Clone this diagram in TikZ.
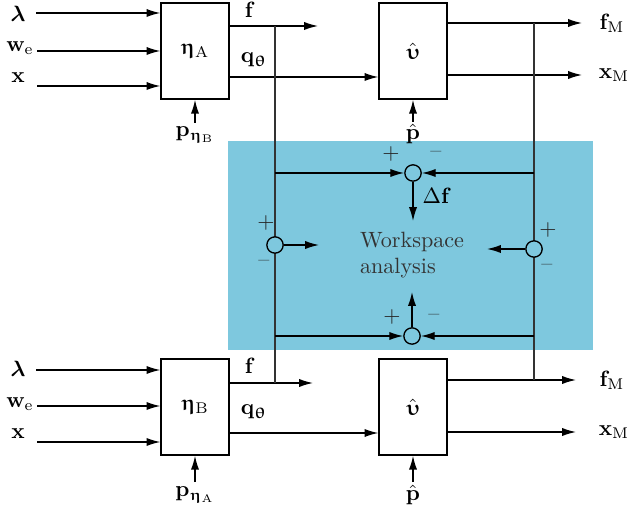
\documentclass[tikz,border=0pt]{standalone}
\usepackage{amsmath}
\usepackage{amssymb}
\usepackage{upgreek}
\usepackage{bm}
\usepackage{xcolor}
\usepackage{tikz}
\usetikzlibrary{shapes,arrows,arrows.meta}
\tikzstyle{rectblock} = [rectangle, draw, semithick, minimum width=10.8mm, minimum height=15.3mm]
\tikzstyle{sumnode} = [circle, draw, semithick, fill=wsblue, minimum size=2.6mm, inner sep=0pt]
\tikzstyle{arrow} = [draw, -{Latex[length=2.2mm, width=1.3mm]}, semithick]
\tikzstyle{wire} = [draw, semithick, black!80]
\tikzstyle{signlabel} = [text=black!85, inner sep=1pt]
\definecolor{wsblue}{HTML}{7EC8DE}

\begin{document}
\begin{tikzpicture}[x=0.159mm, y=-0.159mm]
    \useasboundingbox (0,0) rectangle (631,515);
    % workspace area
    \fill[wsblue] (228,141) rectangle (593,350);
    
    % model A
    \node[rectblock] at (195,51) (etaA) {$\bm{\upeta}_\mathrm{A}$};
    \node at (18,14) (lamA) {$\bm{\lambda}$};
    \node at (20,48) (weA) {$\mathbf{w}_\mathrm{e}$};
    \node at (18,78) (xA) {$\mathbf{x}$};
    \coordinate (lamAin) at (36,13);
    \coordinate (weAin) at (37,51);
    \coordinate (xAin) at (37,86);
    \path[arrow] (lamAin) to (lamAin -| etaA.west);
    \path[arrow] (weAin) to (weAin -| etaA.west);
    \path[arrow] (xAin) to (xAin -| etaA.west);
    \node at (195,135) (pA) {$\mathbf{p}_{\bm{\upeta}_\mathrm{B}}$};
    \coordinate (pAin) at (195,123);
    \path[arrow] (pAin) to (etaA.south);
    
    \node at (250,10) (fA) {$\mathbf{f}$};
    \coordinate (fAout) at (318,26);
    \path[arrow] (etaA.east |- fAout) to (fAout);
    \node at (254,60) (qA) {$\mathbf{q}_{\bm{\uptheta}}$};
    \coordinate (qAline) at (300,77);
    
    \node[rectblock] at (413,51) (upsA) {$\hat{\bm{\upupsilon}}$};
    \path[arrow] (etaA.east |- qAline) to (upsA.west |- qAline);
    \node at (413,134) (phA) {$\hat{\mathbf{p}}$};
    \coordinate (phAin) at (413,122);
    \path[arrow] (phAin) to (upsA.south);
    \node at (612,23) (fMA) {$\mathbf{f}_\mathrm{M}$};
    \node at (614,75) (xMA) {$\mathbf{x}_\mathrm{M}$};
    \coordinate (fMAout) at (582,23);
    \coordinate (xMAout) at (582,75);
    \path[arrow] (upsA.east |- fMAout) to (fMAout);
    \path[arrow] (upsA.east |- xMAout) to (xMAout);
    
    % model B
    \node[rectblock] at (195,407) (etaB) {$\bm{\upeta}_\mathrm{B}$};
    \node at (18,369) (lamB) {$\bm{\lambda}$};
    \node at (20,404) (weB) {$\mathbf{w}_\mathrm{e}$};
    \node at (18,434) (xB) {$\mathbf{x}$};
    \coordinate (lamBin) at (36,370);
    \coordinate (weBin) at (37,406);
    \coordinate (xBin) at (37,442);
    \path[arrow] (lamBin) to (lamBin -| etaB.west);
    \path[arrow] (weBin) to (weBin -| etaB.west);
    \path[arrow] (xBin) to (xBin -| etaB.west);
    \node at (195,495) (pB) {$\mathbf{p}_{\bm{\upeta}_\mathrm{A}}$};
    \coordinate (pBin) at (195,482);
    \path[arrow] (pBin) to (etaB.south);
    
    \node at (250,366) (fB) {$\mathbf{f}$};
    \coordinate (fBout) at (313,383);
    \path[arrow] (etaB.east |- fBout) to (fBout);
    \node at (254,412) (qB) {$\mathbf{q}_{\bm{\uptheta}}$};
    \coordinate (qBline) at (300,433);
    
    \node[rectblock] at (413,407) (upsB) {$\hat{\bm{\upupsilon}}$};
    \path[arrow] (etaB.east |- qBline) to (upsB.west |- qBline);
    \node at (413,495) (phB) {$\hat{\mathbf{p}}$};
    \coordinate (phBin) at (413,482);
    \path[arrow] (phBin) to (upsB.south);
    \node at (612,380) (fMB) {$\mathbf{f}_\mathrm{M}$};
    \node at (614,432) (xMB) {$\mathbf{x}_\mathrm{M}$};
    \coordinate (fMBout) at (576,380);
    \coordinate (xMBout) at (576,432);
    \path[arrow] (upsB.east |- fMBout) to (fMBout);
    \path[arrow] (upsB.east |- xMBout) to (xMBout);
    
    % feedback wires
    \coordinate (fAj) at (275,26);
    \coordinate (fBj) at (275,383);
    \coordinate (fMAj) at (534,23);
    \coordinate (fMBj) at (534,380);
    \path[wire] (fAj) to (fBj);
    \path[wire] (fMAj) to (fMBj);
    
    \node[sumnode] at (413,173) (sumT) {};
    \node[sumnode] at (275,245) (sumL) {};
    \node[sumnode] at (534,249) (sumR) {};
    \node[sumnode] at (412,336) (sumB) {};
    \path[arrow] (fAj |- sumT) to (sumT.west);
    \path[arrow] (fMAj |- sumT) to (sumT.east);
    \path[arrow] (fAj |- sumB) to (sumB.west);
    \path[arrow] (fMAj |- sumB) to (sumB.east);
    
    \node[align=left, text=black!80] at (412,255) (ws) {Workspace\\analysis};
    \coordinate (sumTout) at (413,221);
    \coordinate (sumLout) at (319,245);
    \coordinate (sumRout) at (487,249);
    \coordinate (sumBout) at (412,292);
    \path[arrow] (sumT.south) to (sumTout);
    \path[arrow] (sumL.east) to (sumLout);
    \path[arrow] (sumR.west) to (sumRout);
    \path[arrow] (sumB.north) to (sumBout);
    \node at (437,196) (df) {$\Delta\mathbf{f}$};
    
    % signs
    \node[signlabel] at (391,154) (sumTp) {$+$};
    \node[signlabel] at (436,154) (sumTm) {--};
    \node[signlabel] at (266,223) (sumLp) {$+$};
    \node[signlabel] at (264,263) (sumLm) {--};
    \node[signlabel] at (548,230) (sumRp) {$+$};
    \node[signlabel] at (547,267) (sumRm) {--};
    \node[signlabel] at (392,317) (sumBp) {$+$};
    \node[signlabel] at (434,317) (sumBm) {--};
\end{tikzpicture}
\end{document}
